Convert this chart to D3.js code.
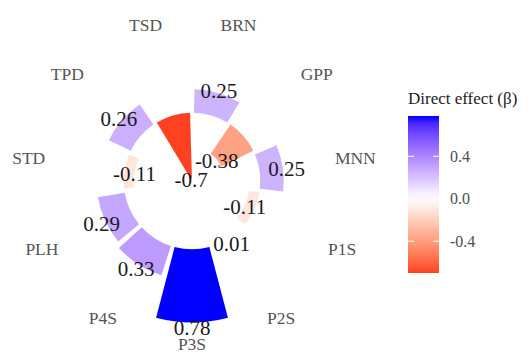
<!DOCTYPE html>
<html><head><meta charset="utf-8">
<script src="https://cdn.jsdelivr.net/npm/d3@7"></script>
<style>body{margin:0;background:#fff}svg{display:block}</style>
</head><body>
<svg id="c" width="527" height="352"></svg>
<script>
const categories = ["TSD","BRN","GPP","MNN","P1S","P2S","P3S","P4S","PLH","STD","TPD"];
const values = [-0.7, 0.25, -0.38, 0.25, -0.11, 0.01, 0.78, 0.33, 0.29, -0.11, 0.26];
const legendTicks = [0.4, 0.0, -0.4];
const legendTitle = "Direct effect (β)";

const svg = d3.select("#c");
const cx = 192, cy = 181;
const n = categories.length;
const step = 2 * Math.PI / n;
const serif = "'Liberation Serif', 'Times New Roman', serif";

const angle = d3.scaleBand().domain(categories)
  .range([-step, 2 * Math.PI - step]).paddingInner(0.1).paddingOuter(0.05);
const r = d3.scaleLinear().domain([-0.73, 0.78]).range([0, 141.3]);

const vmax = d3.max(values, v => Math.abs(v));
const colorT = d3.scaleLinear().domain([-vmax, 0, vmax]).range([0, 0.5, 1]);
const lowHalf = d3.interpolateLab("#ff0000", "#ffffff");
const highHalf = d3.interpolateLab("#ffffff", "#0000ff");
const color = v => { const t = colorT(v); return t < 0.5 ? lowHalf(t / 0.5) : highHalf((t - 0.5) / 0.5); };

const g = svg.append("g").attr("transform", `translate(${cx},${cy})`);
const arc = d3.arc();
const data = categories.map((c, i) => ({c, v: values[i]}));

g.selectAll("path.bar").data(data).join("path")
  .attr("class", "bar")
  .attr("d", d => arc({
    innerRadius: Math.min(r(0), r(d.v)),
    outerRadius: Math.max(r(0), r(d.v)),
    startAngle: angle(d.c),
    endAngle: angle(d.c) + angle.bandwidth()
  }))
  .attr("fill", d => color(d.v));

const mid = c => angle(c) + angle.bandwidth() / 2;

// category labels
g.selectAll("text.cat").data(data).join("text")
  .attr("class", "cat")
  .attr("x", d => 165 * Math.sin(mid(d.c)))
  .attr("y", d => -163 * Math.cos(mid(d.c)))
  .attr("text-anchor", "middle").attr("dominant-baseline", "central")
  .attr("font-family", serif).attr("font-size", 17.5)
  .attr("fill", "#555").text(d => d.c);

// value labels
const lr = d => r(d.v) + (d.v > 0 ? 4 : 0);
g.selectAll("text.val").data(data).join("text")
  .attr("class", "val")
  .attr("x", d => lr(d) * Math.sin(mid(d.c)))
  .attr("y", d => -lr(d) * Math.cos(mid(d.c)) + 1.5)
  .attr("text-anchor", "middle").attr("dominant-baseline", "central")
  .attr("font-family", serif).attr("font-size", 21)
  .attr("fill", "#1a1a1a").text(d => String(d.v));

// legend
const vmin = d3.min(values), vmaxv = d3.max(values);
const ly = d3.scaleLinear().domain([vmin, vmaxv]).range([273, 116]);
const defs = svg.append("defs");
const grad = defs.append("linearGradient").attr("id", "lg")
  .attr("x1", 0).attr("y1", 1).attr("x2", 0).attr("y2", 0);
d3.range(0, 1.0001, 0.05).forEach(t => {
  const v = vmin + t * (vmaxv - vmin);
  grad.append("stop").attr("offset", t).attr("stop-color", color(v));
});
const lx = 408, lw = 31;
svg.append("rect").attr("x", lx).attr("y", ly(vmaxv)).attr("width", lw)
  .attr("height", ly(vmin) - ly(vmaxv)).attr("fill", "url(#lg)");
legendTicks.forEach(t => {
  svg.append("line").attr("x1", lx).attr("x2", lx + 6).attr("y1", ly(t)).attr("y2", ly(t))
    .attr("stroke", "#fff").attr("stroke-width", 1);
  svg.append("line").attr("x1", lx + lw - 6).attr("x2", lx + lw).attr("y1", ly(t)).attr("y2", ly(t))
    .attr("stroke", "#fff").attr("stroke-width", 1);
  svg.append("text").attr("x", 450).attr("y", ly(t)).attr("dominant-baseline", "central")
    .attr("font-family", serif).attr("font-size", 16)
    .attr("fill", "#4d4d4d").text(t.toFixed(1));
});
svg.append("text").attr("x", 408).attr("y", 98).attr("dominant-baseline", "central")
  .attr("font-family", serif).attr("font-size", 17)
  .attr("fill", "#222").text(legendTitle);
</script>
</body></html>
